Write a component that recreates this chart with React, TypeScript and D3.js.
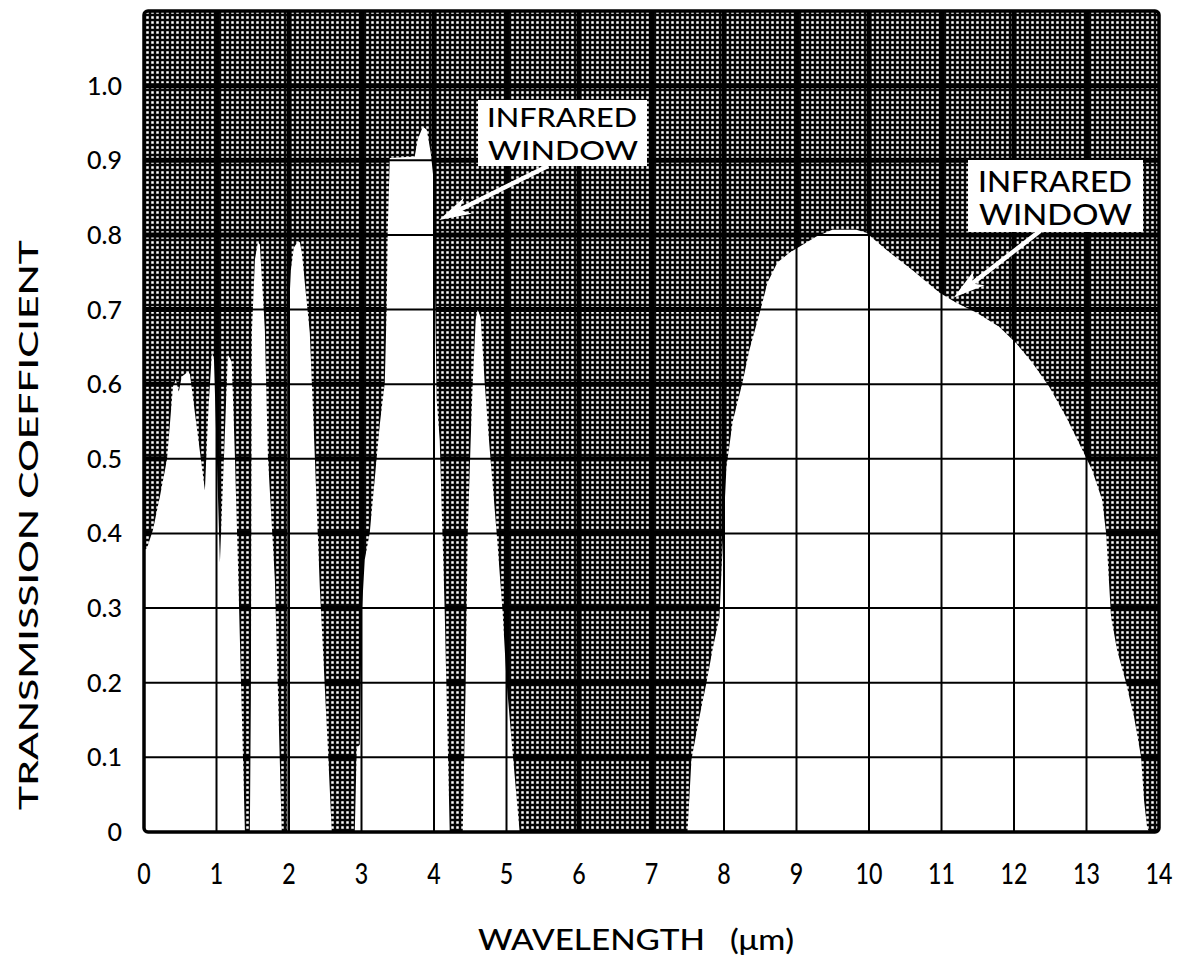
import * as d3 from "d3";
import React from "react";

// wavelength (um) and transmission coefficient
const wavelength = [
  0, 0.04, 0.124, 0.22, 0.317, 0.4, 0.44, 0.48, 0.52, 0.61, 0.634, 0.84, 0.89, 0.937, 0.965,
  1.047, 1.157, 1.185, 1.21, 1.254, 1.295, 1.392, 1.46, 1.474, 1.488, 1.53, 1.571, 1.598,
  1.667, 1.709, 1.805, 1.9, 1.98, 1.985, 2.026, 2.067, 2.122, 2.15, 2.177, 2.287, 2.356,
  2.425, 2.535, 2.59, 2.907, 2.935, 2.976, 3.004, 3.045, 3.114, 3.252, 3.321, 3.348, 3.362,
  3.39, 3.734, 3.776, 3.845, 3.9, 3.955, 3.99, 4.01, 4.037, 4.079, 4.148, 4.217, 4.396,
  4.437, 4.465, 4.506, 4.534, 4.575, 4.602, 4.644, 4.699, 4.754, 4.864, 4.947, 5.002, 5.085,
  5.181, 7.496, 7.551, 7.661, 7.758, 7.841, 7.937, 7.979, 8.034, 8.12, 8.254, 8.351, 8.516,
  8.599, 8.736, 8.902, 9.04, 9.274, 9.494, 9.825, 9.963, 10.238, 10.597, 10.969, 11.203,
  11.479, 11.795, 12.03, 12.25, 12.484, 12.719, 12.898, 13.077, 13.215, 13.27, 13.339,
  13.422, 13.545, 13.656, 13.752, 13.793, 13.835, 13.862, 14,
];
const transmission = [
  0.378, 0.38, 0.405, 0.45, 0.499, 0.597, 0.606, 0.59, 0.61, 0.617, 0.613, 0.458, 0.57, 0.642, 0.633,
  0.361, 0.639, 0.635, 0.629, 0.503, 0.361, 0, 0, 0.177, 0.669, 0.767, 0.79, 0.787,
  0.673, 0.503, 0.338, 0, 0, 0.669, 0.753, 0.783, 0.791, 0.79, 0.776, 0.669, 0.503,
  0.328, 0.114, 0, 0, 0.113, 0.117, 0.294, 0.365, 0.401, 0.546, 0.602, 0.704, 0.807,
  0.903, 0.905, 0.928, 0.945, 0.941, 0.91, 0.878, 0.75, 0.579, 0.525, 0.294, 0, 0,
  0.2, 0.401, 0.525, 0.602, 0.686, 0.7, 0.689, 0.602, 0.53, 0.401, 0.294, 0.2, 0.106,
  0, 0, 0.097, 0.154, 0.2, 0.244, 0.288, 0.378, 0.489, 0.55, 0.602, 0.646, 0.704,
  0.736, 0.763, 0.776, 0.784, 0.798, 0.807, 0.807, 0.803, 0.78, 0.753, 0.723, 0.709,
  0.696, 0.677, 0.655, 0.629, 0.597, 0.556, 0.521, 0.485, 0.445, 0.401, 0.288,
  0.244, 0.2, 0.154, 0.101, 0.043, 0.007, 0, 0,
];

const xTicks = d3.range(0, 15);
const yTicks = [0, 0.1, 0.2, 0.3, 0.4, 0.5, 0.6, 0.7, 0.8, 0.9, 1.0];
const yTickLabels = ["0", "0.1", "0.2", "0.3", "0.4", "0.5", "0.6", "0.7", "0.8", "0.9", "1.0"];

const W = 1185, H = 958;
const left = 144, right = 1159, top = 11, bottom = 832;

const font = "Lato, 'Open Sans', sans-serif";

function Arrow({ x1, y1, x2, y2 }) {
  const dx = x2 - x1, dy = y2 - y1;
  const len = Math.sqrt(dx * dx + dy * dy);
  const ux = dx / len, uy = dy / len;
  const nx = -uy, ny = ux;
  const L = 32, Wd = 9;
  const bx = x2 - ux * L, by = y2 - uy * L;
  const mx = x2 - ux * L * 0.72, my = y2 - uy * L * 0.72;
  const head = [
    [x2, y2],
    [bx + nx * Wd, by + ny * Wd],
    [mx, my],
    [bx - nx * Wd, by - ny * Wd],
  ];
  return (
    <g>
      <line x1={x1} y1={y1} x2={mx} y2={my} stroke="#fff" strokeWidth={4.5} />
      <polygon points={head.map((p) => p.join(",")).join(" ")} fill="#fff" />
    </g>
  );
}

export default function App() {
  const x = d3.scaleLinear().domain([0, 14]).range([left, right]);
  const y = d3.scaleLinear().domain([0, 1.1]).range([bottom, top]);

  const pts = wavelength.map((w, i) => [w, transmission[i]]);
  const area = d3
    .area()
    .x((d) => x(d[0]))
    .y0(y(0))
    .y1((d) => y(d[1]))
    .curve(d3.curveLinear);

  const gridX = d3.range(1, 14);
  const gridY = d3.range(1, 11).map((v) => v / 10);

  const grid = (w) => (
    <g stroke="#000" strokeWidth={w}>
      {gridX.map((v) => (
        <line key={"gx" + v} x1={x(v)} x2={x(v)} y1={top} y2={bottom} />
      ))}
      {gridY.map((v) => (
        <line key={"gy" + v} x1={left} x2={right} y1={y(v)} y2={y(v)} />
      ))}
    </g>
  );

  return (
    <svg width={W} height={H} style={{ position: "absolute", left: 0, top: 0, background: "#fff" }}>
      <defs>
        <pattern id="dots" width={5} height={5} patternUnits="userSpaceOnUse">
          <rect width={5} height={5} fill="#060606" />
          <rect x={1.25} y={1.25} width={2.5} height={2.5} fill="#fff" />
        </pattern>
      </defs>

      <rect x={left} y={top} width={right - left} height={bottom - top} fill="url(#dots)" />
      {grid(5)}
      <path d={area(pts)} fill="#fff" />
      {grid(2)}
      <rect x={left} y={top} width={right - left} height={bottom - top} fill="none" stroke="#000" strokeWidth={3.5} rx={4} />

      {/* annotations */}
      <rect x={478} y={100} width={169} height={66} fill="#fff" />
      <text x={487} y={127} fontFamily={font} fontSize={27} fontWeight={500} textLength={150} lengthAdjust="spacingAndGlyphs">INFRARED</text>
      <text x={488} y={160} fontFamily={font} fontSize={27} fontWeight={500} textLength={150} lengthAdjust="spacingAndGlyphs">WINDOW</text>
      <Arrow x1={548} y1={166} x2={x(4.07)} y2={y(0.82)} />

      <rect x={968} y={160} width={175} height={72} fill="#fff" />
      <text x={978} y={192} fontFamily={font} fontSize={28} fontWeight={500} textLength={154} lengthAdjust="spacingAndGlyphs">INFRARED</text>
      <text x={979} y={225} fontFamily={font} fontSize={28} fontWeight={500} textLength={153} lengthAdjust="spacingAndGlyphs">WINDOW</text>
      <Arrow x1={1040} y1={231} x2={x(11.17)} y2={y(0.716)} />

      {/* y axis */}
      {yTicks.map((v, i) => (
        <text key={"yt" + v} x={122} y={y(v)} dy="0.36em" textAnchor="end" fontFamily={font} fontSize={25} fontWeight={500}>
          {yTickLabels[i]}
        </text>
      ))}
      <text
        transform={`translate(38,${525}) rotate(-90)`}
        textAnchor="middle"
        fontFamily={font}
        fontSize={27}
        fontWeight={500}
        textLength={570}
        lengthAdjust="spacingAndGlyphs"
      >
        TRANSMISSION COEFFICIENT
      </text>

      {/* x axis */}
      {xTicks.map((v) => (
        <text
          key={"xt" + v}
          transform={`translate(${x(v)},884) scale(0.8,1)`}
          textAnchor="middle"
          fontFamily={font}
          fontSize={29}
          fontWeight={500}
        >
          {v}
        </text>
      ))}
      <text x={478} y={950} fontFamily={font} fontSize={28} fontWeight={500} textLength={227} lengthAdjust="spacingAndGlyphs">WAVELENGTH</text>
      <text x={730} y={950} fontFamily={font} fontSize={28} fontWeight={500} textLength={64} lengthAdjust="spacingAndGlyphs">(μm)</text>
    </svg>
  );
}
